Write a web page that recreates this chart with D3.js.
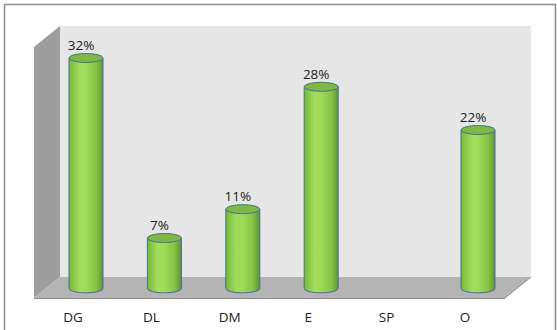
<!DOCTYPE html>
<html>
<head>
<meta charset="utf-8">
<script src="https://cdn.jsdelivr.net/npm/d3@7"></script>
<style>
  body { margin: 0; background: #fff; }
  svg { display: block; }
  text { font-family: "Open Sans", "Liberation Sans", sans-serif; fill: #222; }
</style>
</head>
<body>
<div id="chart"></div>
<script>
// chart data
var categories = ["DG", "DL", "DM", "E", "SP", "O"];
var values = [32, 7, 11, 28, 0, 22];
var valueLabels = ["32%", "7%", "11%", "28%", "", "22%"];

var width = 557, height = 330;

var svg = d3.select("#chart").append("svg")
    .attr("width", width).attr("height", height);

// outer frame
svg.append("rect")
    .attr("x", 4.5).attr("y", 4.5)
    .attr("width", 551).attr("height", 340)
    .attr("fill", "#fff").attr("stroke", "#8c8c8c").attr("stroke-width", 1.5);

// 3d box geometry
var back = { left: 60, right: 531, top: 26, bottom: 277 };
var depth = { dx: -26, dy: 21 };

var walls = svg.append("g").attr("class", "walls");

walls.append("rect")
    .attr("x", back.left).attr("y", back.top)
    .attr("width", back.right - back.left).attr("height", back.bottom - back.top)
    .attr("fill", "#e6e6e6");

function pts(arr) {
  return arr.map(function(p) { return p.join(","); }).join(" ");
}

// side wall
walls.append("polygon")
    .attr("points", pts([[back.left, back.top], [back.left, back.bottom],
      [back.left + depth.dx, back.bottom + depth.dy], [back.left + depth.dx, back.top + depth.dy]]))
    .attr("fill", "#9e9e9e");

// floor
walls.append("polygon")
    .attr("points", pts([[back.left, back.bottom], [back.right, back.bottom],
      [back.right + depth.dx, back.bottom + depth.dy], [back.left + depth.dx, back.bottom + depth.dy]]))
    .attr("fill", "#b4b4b4");

walls.append("line")
    .attr("x1", back.left + depth.dx).attr("y1", back.bottom + depth.dy + 0.5)
    .attr("x2", back.right + depth.dx).attr("y2", back.bottom + depth.dy + 0.5)
    .attr("stroke", "#8a8a8a").attr("stroke-width", 1.2);

walls.append("line")
    .attr("x1", back.right).attr("y1", back.bottom)
    .attr("x2", back.right + depth.dx).attr("y2", back.bottom + depth.dy)
    .attr("stroke", "#8a8a8a").attr("stroke-width", 1);

// scales
var x = d3.scalePoint().domain(categories).range([86, 478]);
var baseY = 288.4;
var y = d3.scaleLinear().domain([0, 35]).range([baseY, baseY - 252]);

// gradient for cylinders
var defs = svg.append("defs");
var grad = defs.append("linearGradient").attr("id", "cyl")
    .attr("x1", "0%").attr("x2", "100%").attr("y1", "0%").attr("y2", "0%");
[["0%", "#78b63a"], ["30%", "#a2dc5c"], ["50%", "#a0da58"], ["80%", "#86c244"], ["100%", "#5f952c"]]
  .forEach(function(s) { grad.append("stop").attr("offset", s[0]).attr("stop-color", s[1]); });

var barW = 34, ry = 4.5;

var bars = svg.append("g").attr("class", "bars")
    .selectAll("g").data(categories.map(function(c, i) {
      return { cat: c, value: values[i], label: valueLabels[i] };
    }).filter(function(d) { return d.value > 0; }))
    .enter().append("g");

bars.append("path")
    .attr("d", function(d) {
      var cx = x(d.cat), x0 = cx - barW / 2, x1 = cx + barW / 2;
      var yt = y(d.value), yb = y(0);
      return "M" + x0 + "," + yt + " L" + x0 + "," + yb +
        " A" + (barW / 2) + "," + ry + " 0 0 0 " + x1 + "," + yb +
        " L" + x1 + "," + yt + " Z";
    })
    .attr("fill", "url(#cyl)")
    .attr("stroke", "#41719c").attr("stroke-width", 1);

bars.append("ellipse")
    .attr("cx", function(d) { return x(d.cat); })
    .attr("cy", function(d) { return y(d.value); })
    .attr("rx", barW / 2).attr("ry", ry)
    .attr("fill", "#80b843")
    .attr("stroke", "#41719c").attr("stroke-width", 1);

bars.append("text")
    .attr("x", function(d) { return x(d.cat) - 5; })
    .attr("y", function(d) { return y(d.value) - 8; })
    .attr("text-anchor", "middle")
    .attr("font-size", "13.5px")
    .text(function(d) { return d.label; });

// category labels
svg.append("g").attr("class", "x-labels")
    .selectAll("text").data(categories).enter().append("text")
    .attr("x", function(d) { return x(d) - 13; })
    .attr("y", 322)
    .attr("text-anchor", "middle")
    .attr("font-size", "13.5px")
    .text(function(d) { return d; });
</script>
</body>
</html>
